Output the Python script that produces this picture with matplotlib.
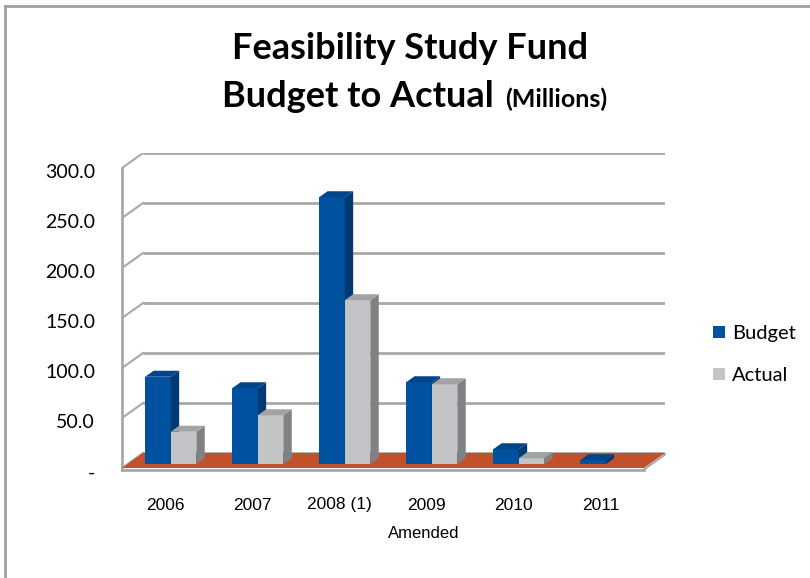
import matplotlib.pyplot as plt
from matplotlib.patches import Polygon, Patch

years = ['2006', '2007', '2008 (1)', '2009', '2010', '2011']
budget = [87.5, 76, 267, 82, 15, 4]
actual = [32.5, 49, 164, 80, 6, 0]
yticks = [0, 50, 100, 150, 200, 250, 300]
ytick_labels = ['-', '50.0', '100.0', '150.0', '200.0', '250.0', '300.0']

blue = ('#00519F', '#003A75', '#00458A')   # front, side, top
grey = ('#C3C4C6', '#808184', '#A2A3A5')
floor_col = '#C2502A'
grid_col = '#A8A8A8'

# oblique depth offset of the whole plot box (x in category units, y in value units)
DX, DY = 0.242, 15.0
# bars sit between these depth fractions
f0, f1 = 0.25, 0.65
bw = 0.294

fig = plt.figure(figsize=(8.1, 5.78), dpi=100)
fig.patch.set_facecolor('white')
ax = fig.add_axes([122 / 810, 110 / 578, 543 / 810, 315 / 578])
n = len(years)
ax.set_xlim(0, n + DX)
ax.set_ylim(0, 300 + DY)
ax.axis('off')

# walls: back gridlines, side wall diagonals and the front edge
for v in yticks:
    ax.plot([DX, n + DX], [v + DY, v + DY], color=grid_col, lw=2, zorder=1,
            solid_capstyle='butt')
    ax.plot([0, DX], [v, v + DY], color=grid_col, lw=1.5, zorder=1)
ax.plot([0, 0], [-2, 300], color=grid_col, lw=2, zorder=1, clip_on=False)

# floor
ax.add_patch(Polygon([(0, 0), (n, 0), (n + DX, DY), (DX, DY)],
                     closed=True, facecolor=floor_col, edgecolor='none', zorder=2))
ax.plot([0, n], [-1.5, -1.5], color=grid_col, lw=2, zorder=2, clip_on=False)
ax.plot([n, n + DX], [-1.5, DY - 1.5], color=grid_col, lw=1.5, zorder=2, clip_on=False)


def draw_bar(x0, h, cols, z):
    if h <= 0:
        return
    bx, by = x0 + f0 * DX, f0 * DY
    ddx, ddy = (f1 - f0) * DX, (f1 - f0) * DY
    ax.bar(bx, h, width=bw, bottom=by, align='edge', color=cols[0], zorder=z)
    ax.add_patch(Polygon([(bx + bw, by), (bx + bw + ddx, by + ddy),
                          (bx + bw + ddx, by + h + ddy), (bx + bw, by + h)],
                         facecolor=cols[1], edgecolor='none', zorder=z))
    ax.add_patch(Polygon([(bx, by + h), (bx + bw, by + h),
                          (bx + bw + ddx, by + h + ddy), (bx + ddx, by + h + ddy)],
                         facecolor=cols[2], edgecolor='none', zorder=z))


for i in range(n):
    c = i + 0.5
    draw_bar(c - bw, budget[i], blue, 3)
    draw_bar(c, actual[i], grey, 4)

# axis labels
for v, lab in zip(yticks, ytick_labels):
    ax.text(-0.31, v - 5, lab, ha='right', va='center', fontsize=14, family='Lato')
for i, lab in enumerate(years):
    ax.text(i + 0.5, -37, lab, ha='center', va='center', fontsize=12.5,
            family='Liberation Sans')
ax.text(3.5 - 0.03, -65, 'Amended', ha='center', va='center', fontsize=12,
        family='Liberation Sans')

# title
fig.text(410 / 810, 1 - 59 / 578, 'Feasibility Study Fund', ha='center',
         va='baseline', fontsize=26, fontweight='bold', family='Lato')
fig.text(222 / 810, 1 - 107 / 578, 'Budget to Actual', ha='left',
         va='baseline', fontsize=26, fontweight='bold', family='Lato')
fig.text(505 / 810, 1 - 107 / 578, '(Millions)', ha='left',
         va='baseline', fontsize=18, fontweight='bold', family='Lato')

# legend
handles = [Patch(facecolor=blue[0], label='Budget'),
           Patch(facecolor=grey[0], label='Actual')]
fig.legend(handles=handles, loc='upper left', bbox_to_anchor=(713 / 810, 1 - 325 / 578),
           frameon=False, prop={'family': 'Lato', 'size': 14.5},
           borderpad=0, borderaxespad=0,
           handlelength=0.6, handleheight=0.6, handletextpad=0.35, labelspacing=1.25)

# chart border (left and top edges)
fig.add_artist(plt.Line2D([5 / 810, 5 / 810], [0, 1 - 6 / 578], color='#A0A0A0', lw=2))
fig.add_artist(plt.Line2D([5 / 810, 1], [1 - 6 / 578, 1 - 6 / 578], color='#A0A0A0', lw=2))

fig.savefig('out.png', dpi=100)
